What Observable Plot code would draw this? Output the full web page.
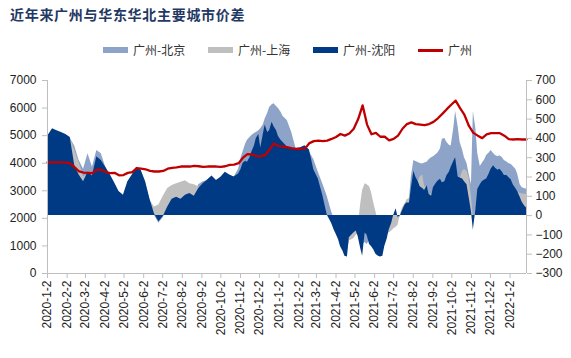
<!DOCTYPE html>
<html><head><meta charset="utf-8">
<script src="https://cdn.jsdelivr.net/npm/d3@7"></script>
<script src="https://cdn.jsdelivr.net/npm/@observablehq/plot@0.6"></script>
<style>
body{margin:0;background:#fff;width:571px;height:358px;overflow:hidden;position:relative;font-family:"Liberation Sans",Arial,sans-serif;}
#title{position:absolute;left:10px;top:4px;font-family:"Noto Sans CJK SC";font-weight:bold;font-size:14px;color:#1f3864;letter-spacing:0.7px;white-space:nowrap;}
.lg{position:absolute;top:42px;font-family:"Noto Sans CJK SC";font-size:12px;color:#333;white-space:nowrap;line-height:16px;}
.sw{position:absolute;width:25px;}
#chart{position:absolute;left:0;top:62px;}
</style></head>
<body>
<div id="title"></div>
<div id="legend"></div>
<div id="chart"></div>
<script>
const titleText = "近年来广州与华东华北主要城市价差";
const seriesNames = ["广州-北京","广州-上海","广州-沈阳","广州"];
const seriesColors = ["#8DA3C8","#BFBFBF","#003A85","#C00000"];

// dates of the 广州 price line (weekly)
const lineDates = ["2020-01-02","2020-01-10","2020-01-17","2020-01-24","2020-01-31","2020-02-07","2020-02-14","2020-02-21","2020-02-28","2020-03-06",
"2020-03-13","2020-03-20","2020-03-27","2020-04-03","2020-04-10","2020-04-17","2020-04-24","2020-05-01","2020-05-08","2020-05-15",
"2020-05-22","2020-05-29","2020-06-05","2020-06-12","2020-06-19","2020-06-26","2020-07-03","2020-07-10","2020-07-17","2020-07-24",
"2020-07-31","2020-08-07","2020-08-14","2020-08-21","2020-08-28","2020-09-04","2020-09-11","2020-09-18","2020-09-25","2020-10-02",
"2020-10-09","2020-10-16","2020-10-23","2020-10-30","2020-11-06","2020-11-13","2020-11-20","2020-11-27","2020-12-04","2020-12-11",
"2020-12-18","2020-12-25","2021-01-01","2021-01-08","2021-01-15","2021-01-22","2021-01-29","2021-02-05","2021-02-12","2021-02-19",
"2021-02-26","2021-03-05","2021-03-12","2021-03-19","2021-03-26","2021-04-02","2021-04-09","2021-04-16","2021-04-23","2021-04-30",
"2021-05-07","2021-05-14","2021-05-21","2021-05-28","2021-06-04","2021-06-11","2021-06-18","2021-06-25","2021-07-02","2021-07-09",
"2021-07-16","2021-07-23","2021-07-30","2021-08-06","2021-08-13","2021-08-20","2021-08-27","2021-09-03","2021-09-10","2021-09-17",
"2021-09-24","2021-10-01","2021-10-08","2021-10-15","2021-10-22","2021-10-29","2021-11-05","2021-11-12","2021-11-19","2021-11-26",
"2021-12-03","2021-12-10","2021-12-17","2021-12-24","2021-12-31","2022-01-07","2022-01-14","2022-01-21","2022-01-28"];
// 广州 price (left axis)
const gz = [4030,4030,4030,4030,4020,3990,3850,3700,3660,3650,
 3640,3770,3760,3680,3640,3650,3560,3570,3650,3680,
 3820,3800,3780,3720,3700,3700,3720,3800,3830,3850,
 3880,3880,3880,3900,3890,3870,3880,3880,3880,3870,
 3890,3940,3950,4000,4200,4330,4320,4260,4250,4300,
 4500,4720,4620,4600,4580,4540,4520,4520,4530,4730,
 4800,4820,4800,4820,4880,4950,5060,5000,5080,5250,
 5600,6100,5400,5050,5100,4960,4960,4830,4880,5000,
 5250,5420,5480,5420,5400,5380,5420,5500,5630,5790,
 5960,6120,6270,6000,5750,5350,5100,5000,4910,5050,
 5090,5090,5090,5000,4870,4860,4870,4860,4860];

// dates of the spread areas
const areaDates = ["2020-01-02","2020-01-10","2020-01-17","2020-01-24","2020-01-31","2020-02-07","2020-02-14","2020-02-21","2020-02-28","2020-03-06",
"2020-03-13","2020-03-20","2020-03-27","2020-04-03","2020-04-10","2020-04-17","2020-04-24","2020-05-01","2020-05-08","2020-05-15",
"2020-05-22","2020-05-29","2020-06-05","2020-06-12","2020-06-19","2020-06-26","2020-07-03","2020-07-10","2020-07-17","2020-07-24",
"2020-07-31","2020-08-07","2020-08-14","2020-08-21","2020-08-28","2020-09-04","2020-09-11","2020-09-18","2020-09-25","2020-10-02",
"2020-10-09","2020-10-16","2020-10-23",
"2020-10-30","2020-11-03","2020-11-06","2020-11-10","2020-11-13","2020-11-17","2020-11-20","2020-11-24","2020-11-27","2020-12-01",
"2020-12-04","2020-12-08","2020-12-11","2020-12-15","2020-12-18","2020-12-22","2020-12-25","2020-12-29","2021-01-01","2021-01-05","2021-01-08",
"2021-01-15","2021-01-22","2021-01-29","2021-02-05","2021-02-12","2021-02-19","2021-02-26","2021-03-05","2021-03-12","2021-03-19",
"2021-03-26","2021-03-30","2021-04-02","2021-04-06","2021-04-09","2021-04-13","2021-04-16","2021-04-20","2021-04-23","2021-04-27",
"2021-04-30","2021-05-04","2021-05-07","2021-05-11","2021-05-14","2021-05-18","2021-05-21","2021-05-25","2021-05-28","2021-06-01",
"2021-06-04","2021-06-08","2021-06-11","2021-06-15","2021-06-18","2021-06-22","2021-06-25","2021-06-29","2021-07-02","2021-07-06",
"2021-07-09","2021-07-13","2021-07-16","2021-07-20","2021-07-23","2021-07-27","2021-07-30","2021-08-03","2021-08-06","2021-08-10",
"2021-08-13","2021-08-17","2021-08-20","2021-08-24","2021-08-27","2021-08-31","2021-09-03","2021-09-07","2021-09-10","2021-09-14",
"2021-09-17","2021-09-21","2021-09-24","2021-09-28","2021-10-01","2021-10-05","2021-10-08","2021-10-12","2021-10-15","2021-10-19",
"2021-10-22","2021-10-26","2021-10-29","2021-11-02","2021-11-05","2021-11-09","2021-11-12","2021-11-16","2021-11-19","2021-11-23",
"2021-11-26","2021-11-30","2021-12-03","2021-12-07","2021-12-10","2021-12-14","2021-12-17","2021-12-21","2021-12-24","2021-12-28",
"2021-12-31","2022-01-04","2022-01-07","2022-01-11","2022-01-14","2022-01-18","2022-01-21","2022-01-25","2022-01-28"];

// 广州-北京 (right axis)
const gzBj = [400,440,435,420,415,400,360,285,240,320, 250,337,320,250,200,160,115,95,165,200,
 240,225,165,75,0,-40,-10,30,75,90, 80,100,110,100,160,175,180,200,180,195, 220,205,200,
 240,300,330,370,390,405,415,425,430,440,450,470,500,530,560,575,579,565,555,535,515,
 493,430,345,345,355,330,290,225,165,100,
 20,-20,-60,-90,-120,-150,-170,-180,-130,-110, -110,-100,-90,-130,-150,-140,-150,-130,-140,-160,
 -180,-190,-200,-180,-140,-100,-60,-30,-10,20, -30,0,20,50,80,85,200,285,280,275,
 270,268,272,277,290,300,305,315,325,345, 395,400,380,365,360,450,540,460,380,340,
 300,270,220,160,540,450,320,255,270,290, 311,325,337,322,312,305,310,300,285,278,
 270,265,255,240,215,160,145,139,138];
// 广州-上海 (right axis)
const gzSh = [400,440,435,420,415,400,340,275,200,215, 200,290,275,240,205,160,115,95,165,200,
 235,230,175,80,44,55,100,140,156,165, 173,180,165,160,150,140,175,195,172,189, 215,200,190,
 205,230,260,272,267,290,320,350,390,410,340,410,460,420,430,474,450,430,400,380,370,
 345,340,338,342,352,330,226,180,95,0,
 -40,-60,-80,-100,-130,-150,-180,-190,-130,-125, -120,-100,-60,60,130,165,160,150,120,60,
 20,-30,-50,-70,-80,-85,-90,-80,-70,-60, -50,10,40,60,80,90,130,200,190,175,
 200,210,150,150,110,110,135,160,170,180, 165,170,200,215,240,260,280,190,190,230,
 240,230,200,100,-10,20,125,150,165,175, 180,205,230,245,235,225,230,215,198,198,
 190,178,150,135,120,115,113,110,110];
// 广州-沈阳 (right axis)
const gzSy = [410,450,440,430,420,405,260,210,175,225, 205,305,285,250,213,170,125,105,175,210,
 250,235,175,85,10,-32,-5,44,85,95, 85,105,115,100,140,165,185,205,182,199, 225,210,200,
 215,240,270,282,277,300,330,360,400,420,350,420,470,430,440,484,460,440,410,390,380,
 355,350,348,352,362,340,236,190,105,5,
 -40,-75,-95,-125,-160,-185,-210,-215,-115,-100, -90,-80,-110,-170,-210,-90,-100,-150,-160,-180,
 -200,-210,-215,-210,-160,-120,-75,-40,0,35, -10,0,25,55,65,65,140,230,200,175,
 150,140,130,155,110,100,145,165,178,188, 170,175,205,225,250,280,300,200,195,190,
 175,160,100,20,-75,30,135,160,175,185, 190,215,240,258,245,235,240,225,208,208,
 198,185,160,140,125,95,70,50,40];

const leftTicks = [0,1000,2000,3000,4000,5000,6000,7000];
const rightTicks = [-300,-200,-100,0,100,200,300,400,500,600,700];
const xTickLabels = ["2020-1-2","2020-2-2","2020-3-2","2020-4-2","2020-5-2","2020-6-2","2020-7-2","2020-8-2","2020-9-2","2020-10-2","2020-11-2","2020-12-2",
"2021-1-2","2021-2-2","2021-3-2","2021-4-2","2021-5-2","2021-6-2","2021-7-2","2021-8-2","2021-9-2","2021-10-2","2021-11-2","2021-12-2","2022-1-2"];

// right axis (-300..700) mapped onto left axis (0..7000)
const rMin = -300, rMax = 700, lMax = 7000;
const toLeft = v => (v - rMin) * lMax / (rMax - rMin);
const toRight = v => Math.round(v * (rMax - rMin) / lMax + rMin);

const parseLabel = s => { const [y,m,d] = s.split("-").map(Number); return new Date(Date.UTC(y, m-1, d)); };
const xTicks = xTickLabels.map(parseLabel);
const xDomain = [new Date(lineDates[0]), new Date(lineDates[lineDates.length-1])];

const areaRows = areaDates.map((d,i) => ({date:new Date(d), bj:toLeft(gzBj[i]), sh:toLeft(gzSh[i]), sy:toLeft(gzSy[i])}));
const lineRows = lineDates.map((d,i) => ({date:new Date(d), gz:gz[i]}));
const zero = toLeft(0);
const fmtR = d3.format("d");
const axisCol = "#BFBFBF", textCol = "#222";

const chart = Plot.plot({
  width: 571, height: 296,
  marginTop: 18, marginBottom: 85, marginLeft: 47, marginRight: 45,
  style: {fontFamily: "'Liberation Sans', Arial, sans-serif", fontSize: "12px", background: "#fff"},
  x: {type: "utc", domain: xDomain},
  y: {domain: [0, lMax]},
  marks: [
    Plot.areaY(areaRows, {x: "date", y1: zero, y2: "bj", fill: seriesColors[0]}),
    Plot.areaY(areaRows, {x: "date", y1: zero, y2: "sh", fill: seriesColors[1]}),
    Plot.areaY(areaRows, {x: "date", y1: zero, y2: "sy", fill: seriesColors[2]}),
    Plot.lineY(lineRows, {x: "date", y: "gz", stroke: seriesColors[3], strokeWidth: 2.3}),
    Plot.ruleX([xDomain[0]], {y1: 0, y2: lMax, stroke: axisCol}),
    Plot.ruleX([xDomain[1]], {y1: 0, y2: lMax, stroke: axisCol}),
    Plot.ruleY([0], {stroke: axisCol}),
    Plot.axisY(leftTicks, {anchor: "left", tickSize: 5, tickPadding: 6, stroke: axisCol, fill: textCol, fontSize: 12, tickFormat: d3.format("d")}),
    Plot.axisY(rightTicks.map(toLeft), {anchor: "right", tickSize: 5, tickPadding: 4, stroke: axisCol, fill: textCol, fontSize: 12, tickFormat: d => fmtR(toRight(d))}),
    Plot.axisX(xTicks, {anchor: "bottom", tickSize: 5, tickPadding: 2, tickRotate: -90, stroke: axisCol, fill: textCol, fontSize: 12,
      tickFormat: d => `${d.getUTCFullYear()}-${d.getUTCMonth()+1}-${d.getUTCDate()}`})
  ]
});
document.getElementById("chart").appendChild(chart);

// legend
const lg = document.getElementById("legend");
const swX = [103, 208, 313, 418];
seriesNames.forEach((n, i) => {
  const sw = document.createElement("div");
  sw.className = "sw";
  sw.style.left = swX[i] + "px";
  if (i < 3) { sw.style.top = "47px"; sw.style.height = "6px"; }
  else { sw.style.top = "49px"; sw.style.height = "3px"; }
  sw.style.background = seriesColors[i];
  lg.appendChild(sw);
  const t = document.createElement("div");
  t.className = "lg";
  t.style.left = (swX[i] + 30) + "px";
  t.textContent = n;
  lg.appendChild(t);
});
document.getElementById("title").textContent = titleText;
</script>
</body></html>
